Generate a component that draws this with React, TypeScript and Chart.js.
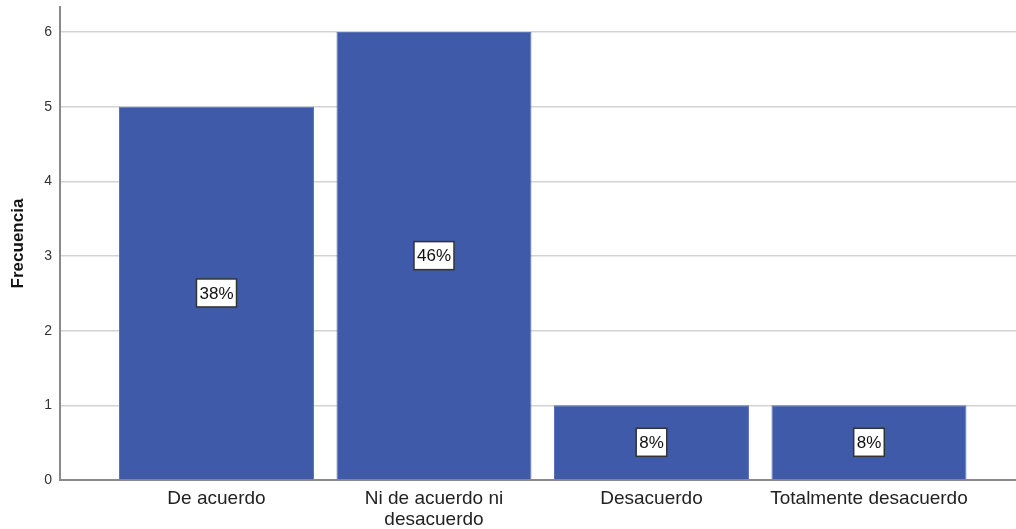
import React, { useEffect, useRef } from "react";
import { Chart, registerables } from "chart.js";

Chart.register(...registerables);

// Response categories and their frequencies
const categories: (string | string[])[] = [
  "De acuerdo",
  ["Ni de acuerdo ni", "desacuerdo"],
  "Desacuerdo",
  "Totalmente desacuerdo",
];
const frequencies = [5, 6, 1, 1];
const yTicks = [0, 1, 2, 3, 4, 5, 6];

const BAR_COLOR = "#3e5aa8";
const FONT = "'Liberation Sans', Arial, sans-serif";

// Draws the percentage of each bar in a boxed label at the bar's middle
const percentLabels = {
  id: "percentLabels",
  afterDatasetsDraw(chart: any) {
    const ctx = chart.ctx;
    const meta = chart.getDatasetMeta(0);
    const data = chart.data.datasets[0].data as { x: number; y: number }[];
    const total = data.reduce((s, d) => s + d.y, 0);
    ctx.save();
    ctx.font = `17px ${FONT}`;
    ctx.textAlign = "center";
    ctx.textBaseline = "middle";
    meta.data.forEach((bar: any, i: number) => {
      const text = `${Math.round((data[i].y / total) * 100)}%`;
      const cx = bar.x;
      const cy = (bar.y + bar.base) / 2;
      const w = ctx.measureText(text).width + 6;
      const h = 28;
      ctx.fillStyle = "#ffffff";
      ctx.fillRect(cx - w / 2, cy - h / 2, w, h);
      ctx.strokeStyle = "#333333";
      ctx.lineWidth = 1.5;
      ctx.strokeRect(cx - w / 2, cy - h / 2, w, h);
      ctx.fillStyle = "#111111";
      ctx.fillText(text, cx, cy + 1);
    });
    ctx.restore();
  },
};

export default function App() {
  const canvasRef = useRef<HTMLCanvasElement | null>(null);

  useEffect(() => {
    document.body.style.margin = "0";
    const canvas = canvasRef.current;
    if (!canvas) return;
    const chart = new Chart(canvas, {
      type: "bar",
      data: {
        datasets: [
          {
            data: frequencies.map((v, i) => ({ x: i, y: v })),
            backgroundColor: BAR_COLOR,
            borderColor: "#5a72b6",
            borderWidth: 1,
            categoryPercentage: 1,
            barPercentage: 195 / 217.5,
          },
        ],
      },
      options: {
        animation: false,
        responsive: false,
        maintainAspectRatio: false,
        layout: { padding: { top: 7, right: 0, left: 0, bottom: 0 } },
        plugins: {
          legend: { display: false },
          tooltip: { enabled: false },
        },
        scales: {
          x: {
            type: "linear",
            offset: false,
            min: -0.7195,
            max: 3.676,
            afterBuildTicks: (scale: any) => {
              scale.ticks = categories.map((_, i) => ({ value: i }));
            },
            afterFit: (scale: any) => {
              scale.height = 49;
            },
            grid: { display: false, drawTicks: false },
            border: { display: true, color: "#8a8a8a", width: 2 },
            ticks: {
              autoSkip: false,
              maxRotation: 0,
              padding: 8,
              color: "#222222",
              font: { family: FONT, size: 19, lineHeight: 1.1 },
              callback: (v: any) => categories[v as number],
            },
          },
          y: {
            min: 0,
            max: 6.335,
            afterBuildTicks: (scale: any) => {
              scale.ticks = yTicks.map((v) => ({ value: v }));
            },
            afterFit: (scale: any) => {
              scale.width = 60;
              scale.paddingTop = 0;
              scale.paddingBottom = 0;
            },
            grid: { color: "#d3d3d3", lineWidth: 1.5, drawTicks: false },
            border: { display: true, color: "#8a8a8a", width: 2 },
            ticks: {
              padding: 8,
              color: "#333333",
              font: { family: FONT, size: 14 },
            },
            title: {
              display: true,
              text: "Frecuencia",
              color: "#111111",
              padding: { top: 8, bottom: 0 },
              font: { family: FONT, size: 17, weight: "bold" },
            },
          },
        },
      },
      plugins: [percentLabels],
    });
    return () => chart.destroy();
  }, []);

  return (
    <div style={{ width: 1016, height: 529, background: "#ffffff" }}>
      <canvas ref={canvasRef} width={1016} height={529} />
    </div>
  );
}
